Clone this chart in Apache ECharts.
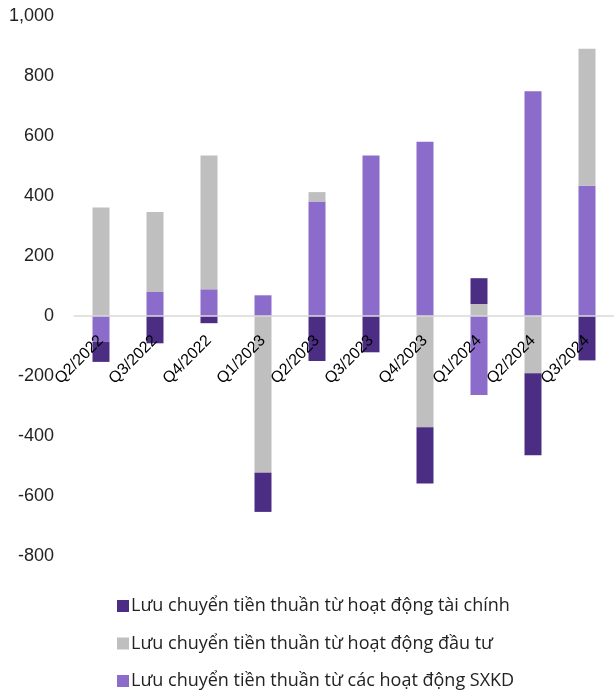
<!DOCTYPE html>
<html><head><meta charset="utf-8">
<script src="https://cdn.jsdelivr.net/npm/echarts@6/dist/echarts.min.js"></script>
<style>html,body{margin:0;padding:0;background:#fff}#c{width:614px;height:694px}</style>
</head><body><div id="c"></div>
<script>
var categories = ['Q2/2022','Q3/2022','Q4/2022','Q1/2023','Q2/2023','Q3/2023','Q4/2023','Q1/2024','Q2/2024','Q3/2024'];
var taiChinh = [-67, -91, -24, -131, -150, -121, -187, 86, -273, -148];
var dauTu = [362, 267, 446, -522, 31, 0, -371, 40, -191, 457];
var sxkd = [-86, 80, 89, 69, 382, 535, 581, -263, 749, 434];
var names = ['Lưu chuyển tiền thuần từ hoạt động tài chính','Lưu chuyển tiền thuần từ hoạt động đầu tư','Lưu chuyển tiền thuần từ các hoạt động SXKD'];
var colors = ['#4b2d84','#bfbfbf','#8b6cca'];
var yTicks = {min:-800, max:1000, interval:200};

var gridTop = 16, gridBottom = 138, H = 694;
var plotH = H - gridTop - gridBottom;
var zeroOffset = -plotH * (0 - yTicks.min) / (yTicks.max - yTicks.min);

var chart = echarts.init(document.getElementById('c'));
var font = 'Liberation Sans';
chart.setOption({
  animation:false,
  textStyle:{fontFamily:font},
  grid:{left:74, right:-5, top:gridTop, bottom:gridBottom, containLabel:false},
  legend:{
    orient:'vertical', left:112, top:592, height:102, itemWidth:12, itemHeight:12, itemGap:19.5,
    icon:'rect', data:names,
    textStyle:{fontSize:18, color:'#222', fontFamily:'Open Sans', padding:[0,0,0,-3]}
  },
  xAxis:{
    type:'category', data:categories, z:5, offset:zeroOffset,
    axisLine:{onZero:false, lineStyle:{color:'#d9d9d9', width:1.5}},
    axisTick:{show:false},
    axisLabel:{rotate:45, interval:0, margin:22, fontSize:16, color:'#000', fontFamily:font}
  },
  yAxis:{
    type:'value', min:yTicks.min, max:yTicks.max, interval:yTicks.interval,
    axisLine:{show:false}, axisTick:{show:false}, splitLine:{show:false},
    axisLabel:{fontSize:18, color:'#222', margin:20, fontFamily:font}
  },
  series:[
    {name:names[2], type:'bar', stack:'t', data:sxkd, barWidth:17, itemStyle:{color:colors[2]}},
    {name:names[1], type:'bar', stack:'t', data:dauTu, barWidth:17, itemStyle:{color:colors[1]}},
    {name:names[0], type:'bar', stack:'t', data:taiChinh, barWidth:17, itemStyle:{color:colors[0]}}
  ]
});
</script></body></html>
